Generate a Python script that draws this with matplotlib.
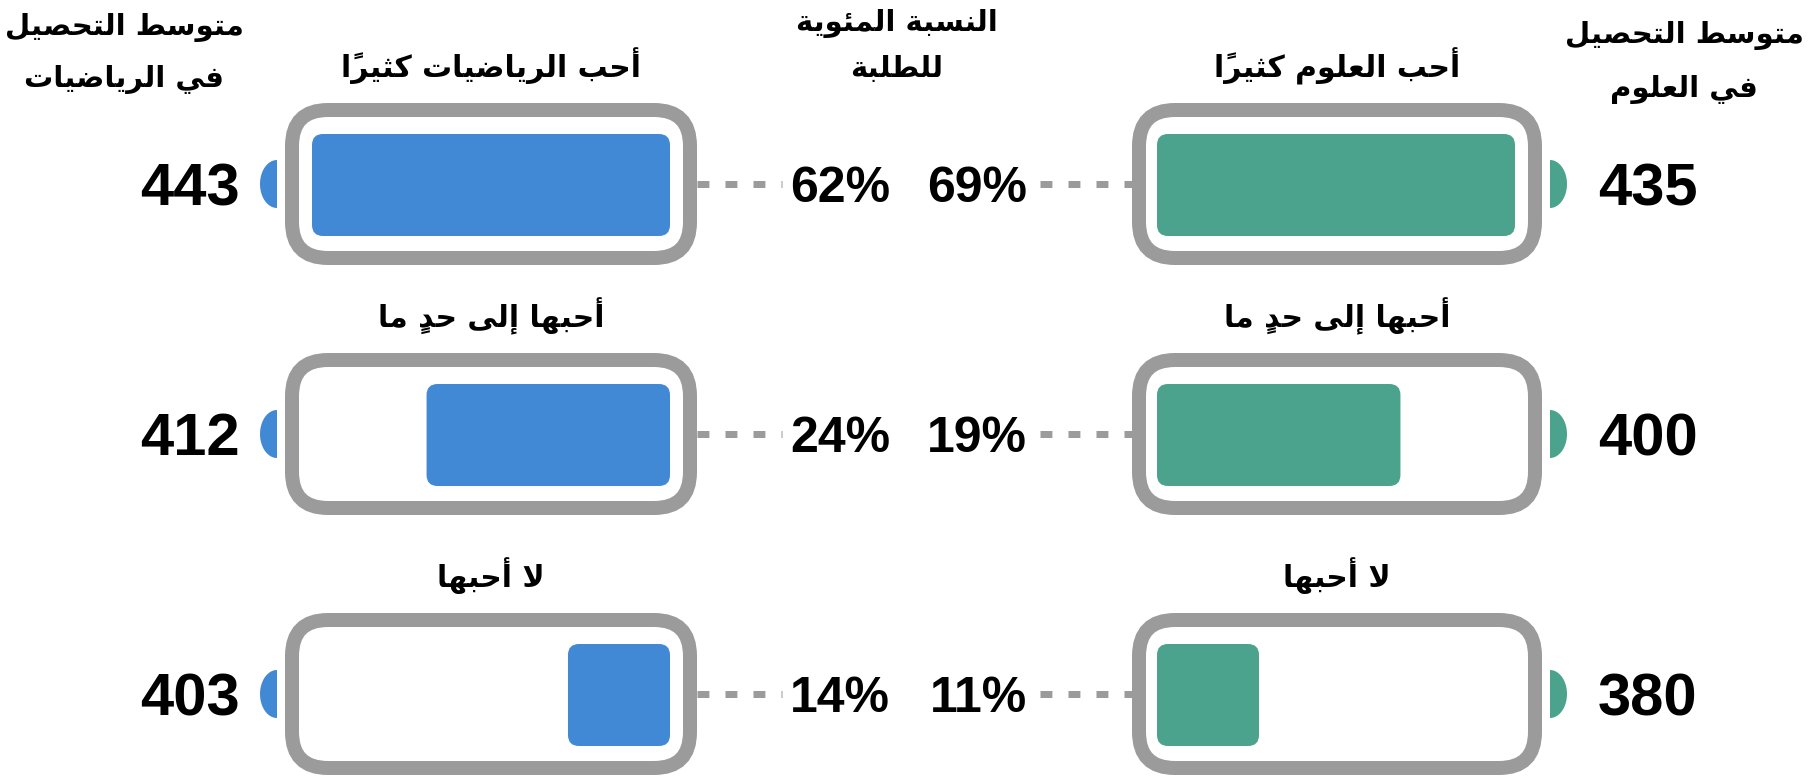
import matplotlib
matplotlib.use("Agg")
import matplotlib.pyplot as plt
from matplotlib.patches import FancyBboxPatch, Polygon
import numpy as np

# ---------------- data ----------------
math_categories = ["أحب الرياضيات كثيرًا", "أحبها إلى حدٍ ما", "لا أحبها"]
science_categories = ["أحب العلوم كثيرًا", "أحبها إلى حدٍ ما", "لا أحبها"]
math_percent = [62, 24, 14]
science_percent = [69, 19, 11]
math_score = [443, 412, 403]
science_score = [435, 400, 380]
# battery charge level drawn in each icon
icon_level = [1.0, 0.68, 0.285]

header_math = ["متوسط التحصيل", "في الرياضيات"]
header_science = ["متوسط التحصيل", "في العلوم"]
header_percent = ["النسبة المئوية", "للطلبة"]

# ---------------- Arabic shaping (presentation forms + visual order) -------------
_F = {
    'ء': (0xFE80, None, None, None),
    'آ': (0xFE81, 0xFE82, None, None), 'أ': (0xFE83, 0xFE84, None, None),
    'ؤ': (0xFE85, 0xFE86, None, None), 'إ': (0xFE87, 0xFE88, None, None),
    'ئ': (0xFE89, 0xFE8A, 0xFE8B, 0xFE8C), 'ا': (0xFE8D, 0xFE8E, None, None),
    'ب': (0xFE8F, 0xFE90, 0xFE91, 0xFE92), 'ة': (0xFE93, 0xFE94, None, None),
    'ت': (0xFE95, 0xFE96, 0xFE97, 0xFE98), 'ث': (0xFE99, 0xFE9A, 0xFE9B, 0xFE9C),
    'ج': (0xFE9D, 0xFE9E, 0xFE9F, 0xFEA0), 'ح': (0xFEA1, 0xFEA2, 0xFEA3, 0xFEA4),
    'خ': (0xFEA5, 0xFEA6, 0xFEA7, 0xFEA8), 'د': (0xFEA9, 0xFEAA, None, None),
    'ذ': (0xFEAB, 0xFEAC, None, None), 'ر': (0xFEAD, 0xFEAE, None, None),
    'ز': (0xFEAF, 0xFEB0, None, None), 'س': (0xFEB1, 0xFEB2, 0xFEB3, 0xFEB4),
    'ش': (0xFEB5, 0xFEB6, 0xFEB7, 0xFEB8), 'ص': (0xFEB9, 0xFEBA, 0xFEBB, 0xFEBC),
    'ض': (0xFEBD, 0xFEBE, 0xFEBF, 0xFEC0), 'ط': (0xFEC1, 0xFEC2, 0xFEC3, 0xFEC4),
    'ظ': (0xFEC5, 0xFEC6, 0xFEC7, 0xFEC8), 'ع': (0xFEC9, 0xFECA, 0xFECB, 0xFECC),
    'غ': (0xFECD, 0xFECE, 0xFECF, 0xFED0), 'ف': (0xFED1, 0xFED2, 0xFED3, 0xFED4),
    'ق': (0xFED5, 0xFED6, 0xFED7, 0xFED8), 'ك': (0xFED9, 0xFEDA, 0xFEDB, 0xFEDC),
    'ل': (0xFEDD, 0xFEDE, 0xFEDF, 0xFEE0), 'م': (0xFEE1, 0xFEE2, 0xFEE3, 0xFEE4),
    'ن': (0xFEE5, 0xFEE6, 0xFEE7, 0xFEE8), 'ه': (0xFEE9, 0xFEEA, 0xFEEB, 0xFEEC),
    'و': (0xFEED, 0xFEEE, None, None), 'ى': (0xFEEF, 0xFEF0, None, None),
    'ي': (0xFEF1, 0xFEF2, 0xFEF3, 0xFEF4),
}
_LAMALEF = {'آ': (0xFEF5, 0xFEF6), 'أ': (0xFEF7, 0xFEF8),
            'إ': (0xFEF9, 0xFEFA), 'ا': (0xFEFB, 0xFEFC)}
_MARKS = set(chr(c) for c in range(0x064B, 0x0653))


def shape(text):
    clusters = []
    for ch in text:
        if ch in _MARKS and clusters:
            clusters[-1][1].append(ch)
        else:
            clusters.append([ch, []])
    dual = lambda c: c in _F and _F[c][2] is not None
    joins = lambda c: c in _F
    out = []
    i, n = 0, len(clusters)
    while i < n:
        b, m = clusters[i]
        prev_b = clusters[i - 1][0] if i > 0 else None
        cp = prev_b is not None and dual(prev_b) and joins(b)
        if b == 'ل' and i + 1 < n and clusters[i + 1][0] in _LAMALEF:
            iso, fin = _LAMALEF[clusters[i + 1][0]]
            # marks go before their base in visual order
            out.append(''.join(m + clusters[i + 1][1]) + chr(fin if cp else iso))
            i += 2
            continue
        if b in _F:
            next_b = clusters[i + 1][0] if i + 1 < n else None
            cn = next_b is not None and dual(b) and joins(next_b)
            iso, fin, ini, med = _F[b]
            if cp and cn:
                g = med
            elif cp:
                g = fin
            elif cn:
                g = ini
            else:
                g = iso
            out.append(''.join(m) + chr(g))
        else:
            out.append(''.join(m) + b)
        i += 1
    return ''.join(reversed(out))


# ---------------- style ----------------
W, H = 1814, 777
GRAY = "#9b9b9b"
BLUE = "#4289d5"
TEAL = "#4ba38e"
AR_FONT = ["DejaVu Sans"]
NUM_FONT = ["Liberation Sans", "DejaVu Sans"]

fig = plt.figure(figsize=(W / 100, H / 100), dpi=100)
ax = fig.add_axes([0, 0, 1, 1])
ax.set_xlim(0, W)
ax.set_ylim(H, 0)
ax.axis("off")

px = 0.72  # points per pixel at dpi 100

row_y = [184, 434, 694]
bat_h = 162
border = 14
fill_h = 102
fill_max = 358
left_x = (285, 697)
right_x = (1132, 1542)


def battery(x0, x1, cy, level, color, side):
    y0 = cy - bat_h / 2
    ax.add_patch(FancyBboxPatch((x0 + border / 2, y0 + border / 2),
                                (x1 - x0) - border, bat_h - border,
                                boxstyle="round,pad=0,rounding_size=36",
                                fc="white", ec=GRAY, lw=border * px, zorder=2))
    w = level * fill_max
    if side == "left":   # math: fill anchored at right, cap at left
        fx = x1 - 27 - w
        capx, sgn = x0 - 8, -1
    else:
        fx = x0 + 25
        capx, sgn = x1 + 8, 1
    ax.add_patch(FancyBboxPatch((fx, cy - fill_h / 2 + 1), w, fill_h,
                                boxstyle="round,pad=0,rounding_size=11",
                                fc=color, ec="none", zorder=3))
    t = np.linspace(-np.pi / 2, np.pi / 2, 60)
    pts = np.column_stack([capx + sgn * 17 * np.cos(t), cy + 24 * np.sin(t)])
    ax.add_patch(Polygon(pts, closed=True, fc=color, ec="none", zorder=3))


for i, cy in enumerate(row_y):
    # math (left)
    battery(*left_x, cy, icon_level[i], BLUE, "left")
    ax.text(240, cy + 21, str(math_score[i]), ha="right", va="baseline",
            fontsize=43, fontweight="bold", family=NUM_FONT)
    ax.plot([left_x[1], 782], [cy, cy], color=GRAY, lw=7 * px,
            ls=(0, (1.7, 2.3)), solid_capstyle="butt", zorder=1)
    ax.text(790, cy + 18, f"{math_percent[i]}%", ha="left", va="baseline",
            fontsize=36, fontweight="bold", family=NUM_FONT)
    ax.text(sum(left_x) / 2, cy - 118, shape(math_categories[i]), ha="center",
            va="center", fontsize=21.5, fontweight="bold", family=AR_FONT)

    # science (right)
    battery(*right_x, cy, icon_level[i], TEAL, "right")
    ax.text(1598, cy + 21, str(science_score[i]), ha="left", va="baseline",
            fontsize=43, fontweight="bold", family=NUM_FONT)
    ax.plot([1040, right_x[0]], [cy, cy], color=GRAY, lw=7 * px,
            ls=(0, (1.7, 2.3)), solid_capstyle="butt", zorder=1)
    ax.text(1027, cy + 18, f"{science_percent[i]}%", ha="right", va="baseline",
            fontsize=36, fontweight="bold", family=NUM_FONT)
    ax.text(sum(right_x) / 2, cy - 118, shape(science_categories[i]), ha="center",
            va="center", fontsize=21.5, fontweight="bold", family=AR_FONT)

# headers
for (x, ys, lines) in [(124, (28, 79), header_math),
                       (897, (23, 69), header_percent),
                       (1684, (35, 89), header_science)]:
    for y, s in zip(ys, lines):
        ax.text(x, y, shape(s), ha="center", va="center", fontsize=21,
                fontweight="bold", family=AR_FONT)

fig.savefig("out.png", dpi=100, facecolor="white")
